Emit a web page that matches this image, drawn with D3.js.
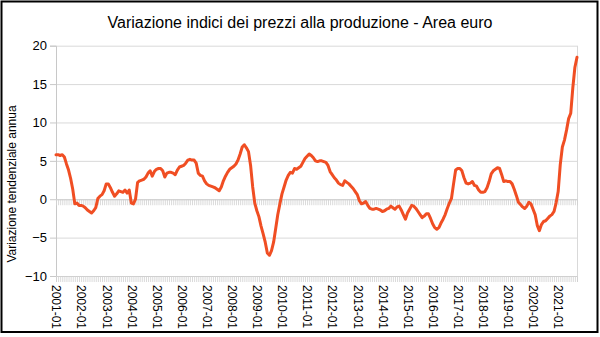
<!DOCTYPE html>
<html>
<head>
<meta charset="utf-8">
<script src="https://cdn.jsdelivr.net/npm/d3@7"></script>
<style>
  html, body { margin: 0; padding: 0; background: #fff; }
  svg { display: block; font-family: "Liberation Sans", Arial, sans-serif; }
</style>
</head>
<body>
<svg id="chart" width="600" height="337"></svg>
<script>
// ---- data ----
const title = "Variazione indici dei prezzi alla produzione - Area euro";
const yTitle = "Variazione tendenziale annua";
const startYear = 2001;
const monthCount = 250; // 2001-01 .. 2021-10
const categories = [];
for (let i = 0; i < monthCount; i++) {
  const y = startYear + Math.floor(i / 12), m = (i % 12) + 1;
  categories.push(y + "-" + (m < 10 ? "0" + m : m));
}
const values = [
  5.8, 5.8, 5.7, 5.8, 5.5, 4.6, 3.8, 2.7, 1.3, -0.6, -0.5, -0.8,      // 2001
  -0.8, -0.9, -1.1, -1.4, -1.6, -1.8, -1.5, -1.1, 0.1, 0.4, 0.6, 1.1, // 2002
  2.0, 2.0, 1.5, 0.9, 0.4, 0.7, 1.1, 1.0, 0.9, 1.2, 0.8, 1.2,         // 2003
  -0.5, -0.6, 0.0, 2.2, 2.4, 2.5, 2.6, 2.9, 3.4, 3.7, 3.0, 3.6,       // 2004
  3.9, 4.0, 4.0, 3.7, 2.9, 3.4, 3.5, 3.5, 3.4, 3.2, 3.8, 4.2,         // 2005
  4.3, 4.4, 4.7, 5.1, 5.2, 5.1, 5.1, 4.7, 3.4, 3.1, 3.0, 2.4,         // 2006
  2.0, 1.8, 1.7, 1.6, 1.5, 1.3, 1.1, 1.6, 2.4, 3.0, 3.5, 3.9,         // 2007
  4.1, 4.3, 4.6, 5.1, 5.9, 6.8, 7.1, 6.7, 6.2, 4.4, 1.6, -0.5,        // 2008
  -1.5, -2.3, -3.5, -4.5, -5.6, -7.0, -7.3, -6.7, -5.6, -3.8, -2.0, -0.6, // 2009
  0.7, 1.6, 2.5, 3.1, 3.5, 3.4, 4.0, 3.9, 4.1, 4.3, 4.8, 5.3,         // 2010
  5.6, 5.9, 5.7, 5.4, 5.0, 4.9, 5.0, 5.0, 4.9, 4.8, 4.4, 3.6,         // 2011
  3.2, 2.8, 2.5, 2.1, 1.9, 1.8, 2.4, 2.2, 2.0, 1.7, 1.4, 1.0,         // 2012
  0.6, -0.2, -0.6, -0.5, -0.3, -0.8, -1.2, -1.3, -1.3, -1.2, -1.3, -1.4, // 2013
  -1.6, -1.5, -1.3, -1.2, -0.9, -1.1, -1.3, -1.0, -0.9, -1.4, -2.0, -2.6, // 2014
  -1.8, -1.3, -0.8, -0.9, -1.2, -1.6, -2.0, -2.4, -2.2, -1.9, -1.9, -2.5, // 2015
  -3.2, -3.7, -3.9, -3.7, -3.1, -2.6, -2.0, -1.2, -0.5, 0.1, 2.0, 3.8,    // 2016
  4.0, 4.0, 3.7, 2.8, 2.1, 2.0, 2.1, 2.3, 1.8, 1.7, 1.2, 0.9,         // 2017
  0.9, 1.0, 1.5, 2.3, 3.3, 3.7, 3.9, 4.1, 4.0, 3.2, 2.3, 2.4,         // 2018
  2.3, 2.3, 2.0, 1.3, 0.5, -0.4, -0.7, -1.0, -1.2, -0.9, -0.4, -0.6,  // 2019
  -1.3, -2.0, -3.4, -4.1, -3.3, -2.9, -2.8, -2.5, -2.2, -2.0, -1.6, -0.5, // 2020
  1.0, 4.5, 6.8, 7.7, 9.0, 10.5, 11.2, 14.5, 17.2, 18.5               // 2021
];
const yTicks = [-10, -5, 0, 5, 10, 15, 20];
const xTickLabels = ["2001-01","2002-01","2003-01","2004-01","2005-01","2006-01","2007-01",
  "2008-01","2009-01","2010-01","2011-01","2012-01","2013-01","2014-01","2015-01","2016-01",
  "2017-01","2018-01","2019-01","2020-01","2021-01"];

// ---- drawing ----
const svg = d3.select("#chart");
const L = 56, R = 577, T = 45.7, B = 276;
const x = d3.scalePoint().domain(categories).range([L, R]);
const y = d3.scaleLinear().domain([-10, 20]).range([B, T]);

// outer frame
svg.append("rect").attr("x", 1.5).attr("y", 1.5).attr("width", 596).attr("height", 330.5)
  .attr("fill", "#fff").attr("stroke", "#000").attr("stroke-width", 2);

// title
svg.append("text").attr("x", 300).attr("y", 28).attr("text-anchor", "middle")
  .attr("font-size", 16).attr("fill", "#000").text(title);

// y title
svg.append("text").attr("transform", "translate(16,184) rotate(-90)")
  .attr("text-anchor", "middle").attr("font-size", 12).attr("fill", "#000").text(yTitle);

// grid lines
const grid = svg.append("g").attr("transform", `translate(${L},0)`)
  .call(d3.axisLeft(y).tickValues(yTicks).tickSize(-(R - L)).tickFormat(""));
grid.select(".domain").remove();
grid.selectAll("line").attr("stroke", "#d9d9d9").attr("stroke-width", 1);

// right frame line
svg.append("line").attr("x1", R + 0.5).attr("x2", R + 0.5).attr("y1", T).attr("y2", B)
  .attr("stroke", "#d9d9d9");

// y axis
const yAxis = svg.append("g").attr("transform", `translate(${L},0)`)
  .call(d3.axisLeft(y).tickValues(yTicks).tickSize(6).tickPadding(3));
yAxis.select(".domain").attr("stroke", "#c8c8c8");
yAxis.selectAll(".tick line").attr("stroke", "#c8c8c8");
yAxis.selectAll(".tick text").attr("font-size", 13).attr("fill", "#000")
  .attr("font-family", "Liberation Sans, Arial, sans-serif");

// monthly tick hatch at 0 and at bottom
[0, -10].forEach(v => {
  const ax = svg.append("g").attr("transform", `translate(0,${y(v)})`)
    .call(d3.axisBottom(x).tickSize(6).tickFormat(""));
  ax.select(".domain").attr("stroke", "#d0d0d0");
  ax.selectAll(".tick line").attr("stroke", "#d0d0d0").attr("stroke-width", 0.8);
});

// x labels
const xl = svg.append("g").attr("transform", `translate(0,${B})`)
  .call(d3.axisBottom(x).tickValues(xTickLabels).tickSize(0).tickPadding(0));
xl.select(".domain").remove();
xl.selectAll(".tick text")
  .attr("font-size", 12).attr("fill", "#000")
  .attr("font-family", "Liberation Sans, Arial, sans-serif")
  .attr("transform", "rotate(90)")
  .attr("x", 9).attr("y", 0).attr("dy", "0.35em")
  .attr("text-anchor", "start");

// line
const line = d3.line().x((d, i) => x(categories[i])).y(d => y(d));
svg.append("path").datum(values).attr("d", line)
  .attr("fill", "none").attr("stroke", "#f04e23").attr("stroke-width", 3)
  .attr("stroke-linejoin", "round").attr("stroke-linecap", "round");
</script>
</body>
</html>
